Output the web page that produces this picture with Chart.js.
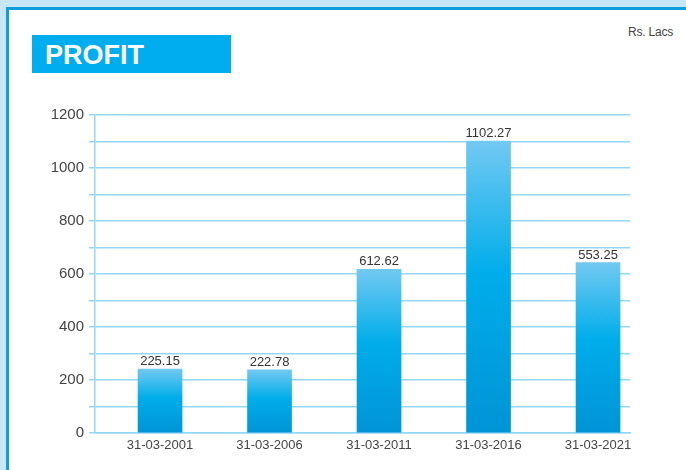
<!DOCTYPE html>
<html>
<head>
<meta charset="utf-8">
<script src="https://cdn.jsdelivr.net/npm/chart.js@4/dist/chart.umd.min.js"></script>
<style>
  html, body { margin: 0; padding: 0; }
  body { width: 686px; height: 470px; overflow: hidden; background: #c5e7f8; position: relative; font-family: "Liberation Sans", Arial, sans-serif; }
  #panel { position: absolute; left: 6px; top: 7px; width: 677px; height: 463px; background: #fff; border-left: 3px solid #0e9edd; border-top: 3px solid #0e9edd; }
  #title { position: absolute; left: 32px; top: 35px; width: 199px; height: 38px; background: #00aeef; color: #fff; font: bold 27px "Liberation Sans", Arial, sans-serif; line-height: 40px; padding-left: 13px; box-sizing: border-box; }
  #unit { position: absolute; left: 628px; top: 25px; color: #444; font: 12px "Liberation Sans", Arial, sans-serif; letter-spacing: -0.2px; }
  #wrap { position: absolute; left: 0; top: 0; width: 686px; height: 470px; }
</style>
</head>
<body>
<div id="panel"></div>
<div id="title">PROFIT</div>
<div id="unit">Rs. Lacs</div>
<div id="wrap"><canvas id="c" width="686" height="470"></canvas></div>
<script>
// Data
const categories = ['31-03-2001', '31-03-2006', '31-03-2011', '31-03-2016', '31-03-2021'];
const barHeights = [241, 238, 618, 1102, 643];           // drawn heights as measured on the picture
const valueLabels = ['225.15', '222.78', '612.62', '1102.27', '553.25']; // printed labels
const yTicks = [0, 200, 400, 600, 800, 1000, 1200];

const gridBlue = '#93d7f6';

const valueLabelPlugin = {
  id: 'valueLabels',
  afterDatasetsDraw(chart) {
    const ctx = chart.ctx;
    const meta = chart.getDatasetMeta(0);
    ctx.save();
    ctx.fillStyle = '#333';
    ctx.font = '13px "Liberation Sans", Arial, sans-serif';
    ctx.textAlign = 'center';
    ctx.textBaseline = 'alphabetic';
    meta.data.forEach((el, i) => {
      ctx.fillText(valueLabels[i], el.x, el.y - 4);
    });
    ctx.restore();
  }
};

function barGradient(context) {
  const chart = context.chart;
  const ys = chart.scales.y;
  if (!ys || context.type !== 'data' || !context.raw) return '#00aeeb';
  const top = ys.getPixelForValue(context.raw.y);
  const bottom = ys.getPixelForValue(0);
  if (!Number.isFinite(top) || !Number.isFinite(bottom) || top === bottom) return '#00aeeb';
  const g = chart.ctx.createLinearGradient(0, top, 0, bottom);
  g.addColorStop(0, '#72c9f2');
  g.addColorStop(0.45, '#00adea');
  g.addColorStop(1, '#0094d6');
  return g;
}

new Chart(document.getElementById('c'), {
  type: 'bar',
  data: {
    datasets: [{
      data: barHeights.map((v, i) => ({ x: i, y: v })),
      backgroundColor: barGradient,
      borderWidth: 0,
      barThickness: 44
    }]
  },
  options: {
    responsive: false,
    animation: false,
    devicePixelRatio: 1,
    layout: { padding: { left: 0, top: 115, right: 56, bottom: 0 } },
    plugins: { legend: { display: false }, tooltip: { enabled: false } },
    scales: {
      x: {
        type: 'linear',
        offset: false,
        min: -0.594,
        max: 4.292,
        afterBuildTicks(scale) { scale.ticks = categories.map((_, i) => ({ value: i })); },
        afterFit(scale) { scale.height = 37; },
        ticks: {
          autoSkip: false,
          maxRotation: 0,
          padding: 5,
          color: '#444',
          font: { family: '"Liberation Sans", Arial, sans-serif', size: 13 },
          callback: (v) => categories[v]
        },
        grid: { display: false, drawTicks: false, offset: false },
        border: { display: true, color: gridBlue, width: 1.5 }
      },
      y: {
        min: 0,
        max: 1200,
        afterFit(scale) { scale.width = 95; },
        ticks: {
          stepSize: 100,
          padding: 5,
          color: '#444',
          font: { family: '"Liberation Sans", Arial, sans-serif', size: 15 },
          callback: (v) => yTicks.includes(v) ? String(v) : ''
        },
        grid: { color: gridBlue, lineWidth: 1.5, tickLength: 6, drawTicks: true },
        border: { display: true, color: gridBlue, width: 1.5 }
      }
    }
  },
  plugins: [valueLabelPlugin]
});
</script>
</body>
</html>
